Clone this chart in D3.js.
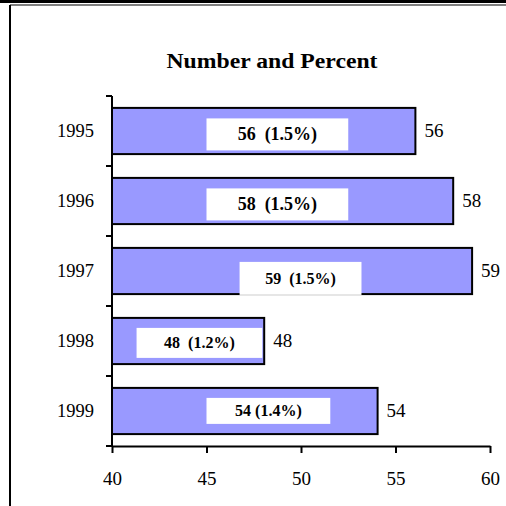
<!DOCTYPE html>
<html lang="en">
<head>
  <meta charset="UTF-8">
  <title>Number and Percent</title>
  <script src="https://d3js.org/d3.v7.min.js"></script>
  <style>
    body { margin: 0; background: #fff; }
    text { font-family: "Liberation Serif", "Times New Roman", serif; fill: #000; }
  </style>
</head>
<body>
  <svg id="chart" width="506" height="506"></svg>
  <script>
    // chart data
    const years = ["1995", "1996", "1997", "1998", "1999"];
    const counts = [56, 58, 59, 48, 54];
    const percents = ["1.5%", "1.5%", "1.5%", "1.2%", "1.4%"];
    const xTicks = [40, 45, 50, 55, 60];

    // where the white label boxes sit (axis units), as in the original
    const boxStart = [45, 45, 46.75, 41.3, 45];
    const boxEnd = [52.5, 52.5, 53.2, 47.95, 51.55];

    const svg = d3.select("#chart");

    const x = d3.scaleLinear().domain([40, 60]).range([112, 490]);
    const y = d3.scaleBand().domain(years).range([96, 446]).paddingInner(0.34).paddingOuter(0.17);

    // frame lines
    svg.append("line").attr("x1", 0).attr("x2", 506).attr("y1", 1.5).attr("y2", 1.5)
      .attr("stroke", "#000").attr("stroke-width", 3);
    svg.append("line").attr("x1", 10).attr("x2", 506).attr("y1", 5).attr("y2", 5)
      .attr("stroke", "#000").attr("stroke-width", 1.2);
    svg.append("line").attr("x1", 10).attr("x2", 10).attr("y1", 5).attr("y2", 506)
      .attr("stroke", "#000").attr("stroke-width", 2);

    svg.append("text")
      .attr("x", 272).attr("y", 68)
      .attr("text-anchor", "middle")
      .attr("textLength", 211)
      .attr("lengthAdjust", "spacingAndGlyphs")
      .style("font-size", "20px").style("font-weight", "bold")
      .text("Number and Percent");

    const rows = years.map((yr, i) => ({
      year: yr, value: counts[i], pct: percents[i], b0: boxStart[i], b1: boxEnd[i]
    }));

    // bars
    svg.selectAll(".bar").data(rows).enter().append("rect")
      .attr("class", "bar")
      .attr("x", x(40))
      .attr("y", d => y(d.year))
      .attr("width", d => x(d.value) - x(40) + 1)
      .attr("height", y.bandwidth())
      .attr("fill", "#9999ff")
      .attr("stroke", "#000")
      .attr("stroke-width", 2);

    // white label boxes
    const boxTop = [10.5, 10.5, 14, 10, 10];
    const boxH = [32, 32, 33, 30, 26];
    const labelSize = [18, 18, 16, 16, 16];
    svg.selectAll(".lbox").data(rows).enter().append("rect")
      .attr("class", "lbox")
      .attr("x", d => x(d.b0))
      .attr("y", (d, i) => y(d.year) + boxTop[i])
      .attr("width", d => x(d.b1) - x(d.b0))
      .attr("height", (d, i) => boxH[i])
      .attr("fill", "#fff");

    svg.selectAll(".ltext").data(rows).enter().append("text")
      .attr("class", "ltext")
      .attr("x", d => (x(d.b0) + x(d.b1)) / 2)
      .attr("y", (d, i) => y(d.year) + boxTop[i] + boxH[i] / 2)
      .attr("dy", "0.32em")
      .attr("text-anchor", "middle")
      .style("font-weight", "bold")
      .style("font-size", (d, i) => labelSize[i] + "px")
      .style("white-space", "pre")
      .text(d => d.year === "1999" ? d.value + " (" + d.pct + ")" : d.value + "  (" + d.pct + ")");

    // value labels right of bars
    svg.selectAll(".vtext").data(rows).enter().append("text")
      .attr("class", "vtext")
      .attr("x", d => x(d.value) + 10)
      .attr("y", d => y(d.year) + y.bandwidth() / 2)
      .attr("dy", "0.33em")
      .style("font-size", "19px")
      .text(d => d.value);

    // axes
    const xAxis = svg.append("g")
      .attr("transform", "translate(0,446)")
      .call(d3.axisBottom(x).tickValues(xTicks).tickSize(7).tickSizeOuter(0).tickPadding(18.5));
    xAxis.select(".domain").attr("stroke-width", 2);
    xAxis.selectAll(".tick line").attr("stroke-width", 2);
    xAxis.selectAll("text").style("font-size", "19px").style("font-family", "Liberation Serif, serif");

    const yGroup = svg.append("g").attr("transform", "translate(112,0)");
    yGroup.append("line").attr("x1", 0).attr("x2", 0).attr("y1", 96).attr("y2", 446)
      .attr("stroke", "#000").attr("stroke-width", 2);
    const bounds = years.map(yr => y(yr) - y.step() * y.paddingInner() / 2);
    bounds.push(446);
    bounds[0] = 96;
    yGroup.selectAll(".ytick").data(bounds).enter().append("line")
      .attr("x1", -6).attr("x2", 0)
      .attr("y1", d => d).attr("y2", d => d)
      .attr("stroke", "#000").attr("stroke-width", 2);
    yGroup.selectAll(".ylab").data(years).enter().append("text")
      .attr("x", -18)
      .attr("y", d => y(d) + y.bandwidth() / 2)
      .attr("dy", "0.33em")
      .attr("text-anchor", "end")
      .style("font-size", "18.5px")
      .text(d => d);
  </script>
</body>
</html>
